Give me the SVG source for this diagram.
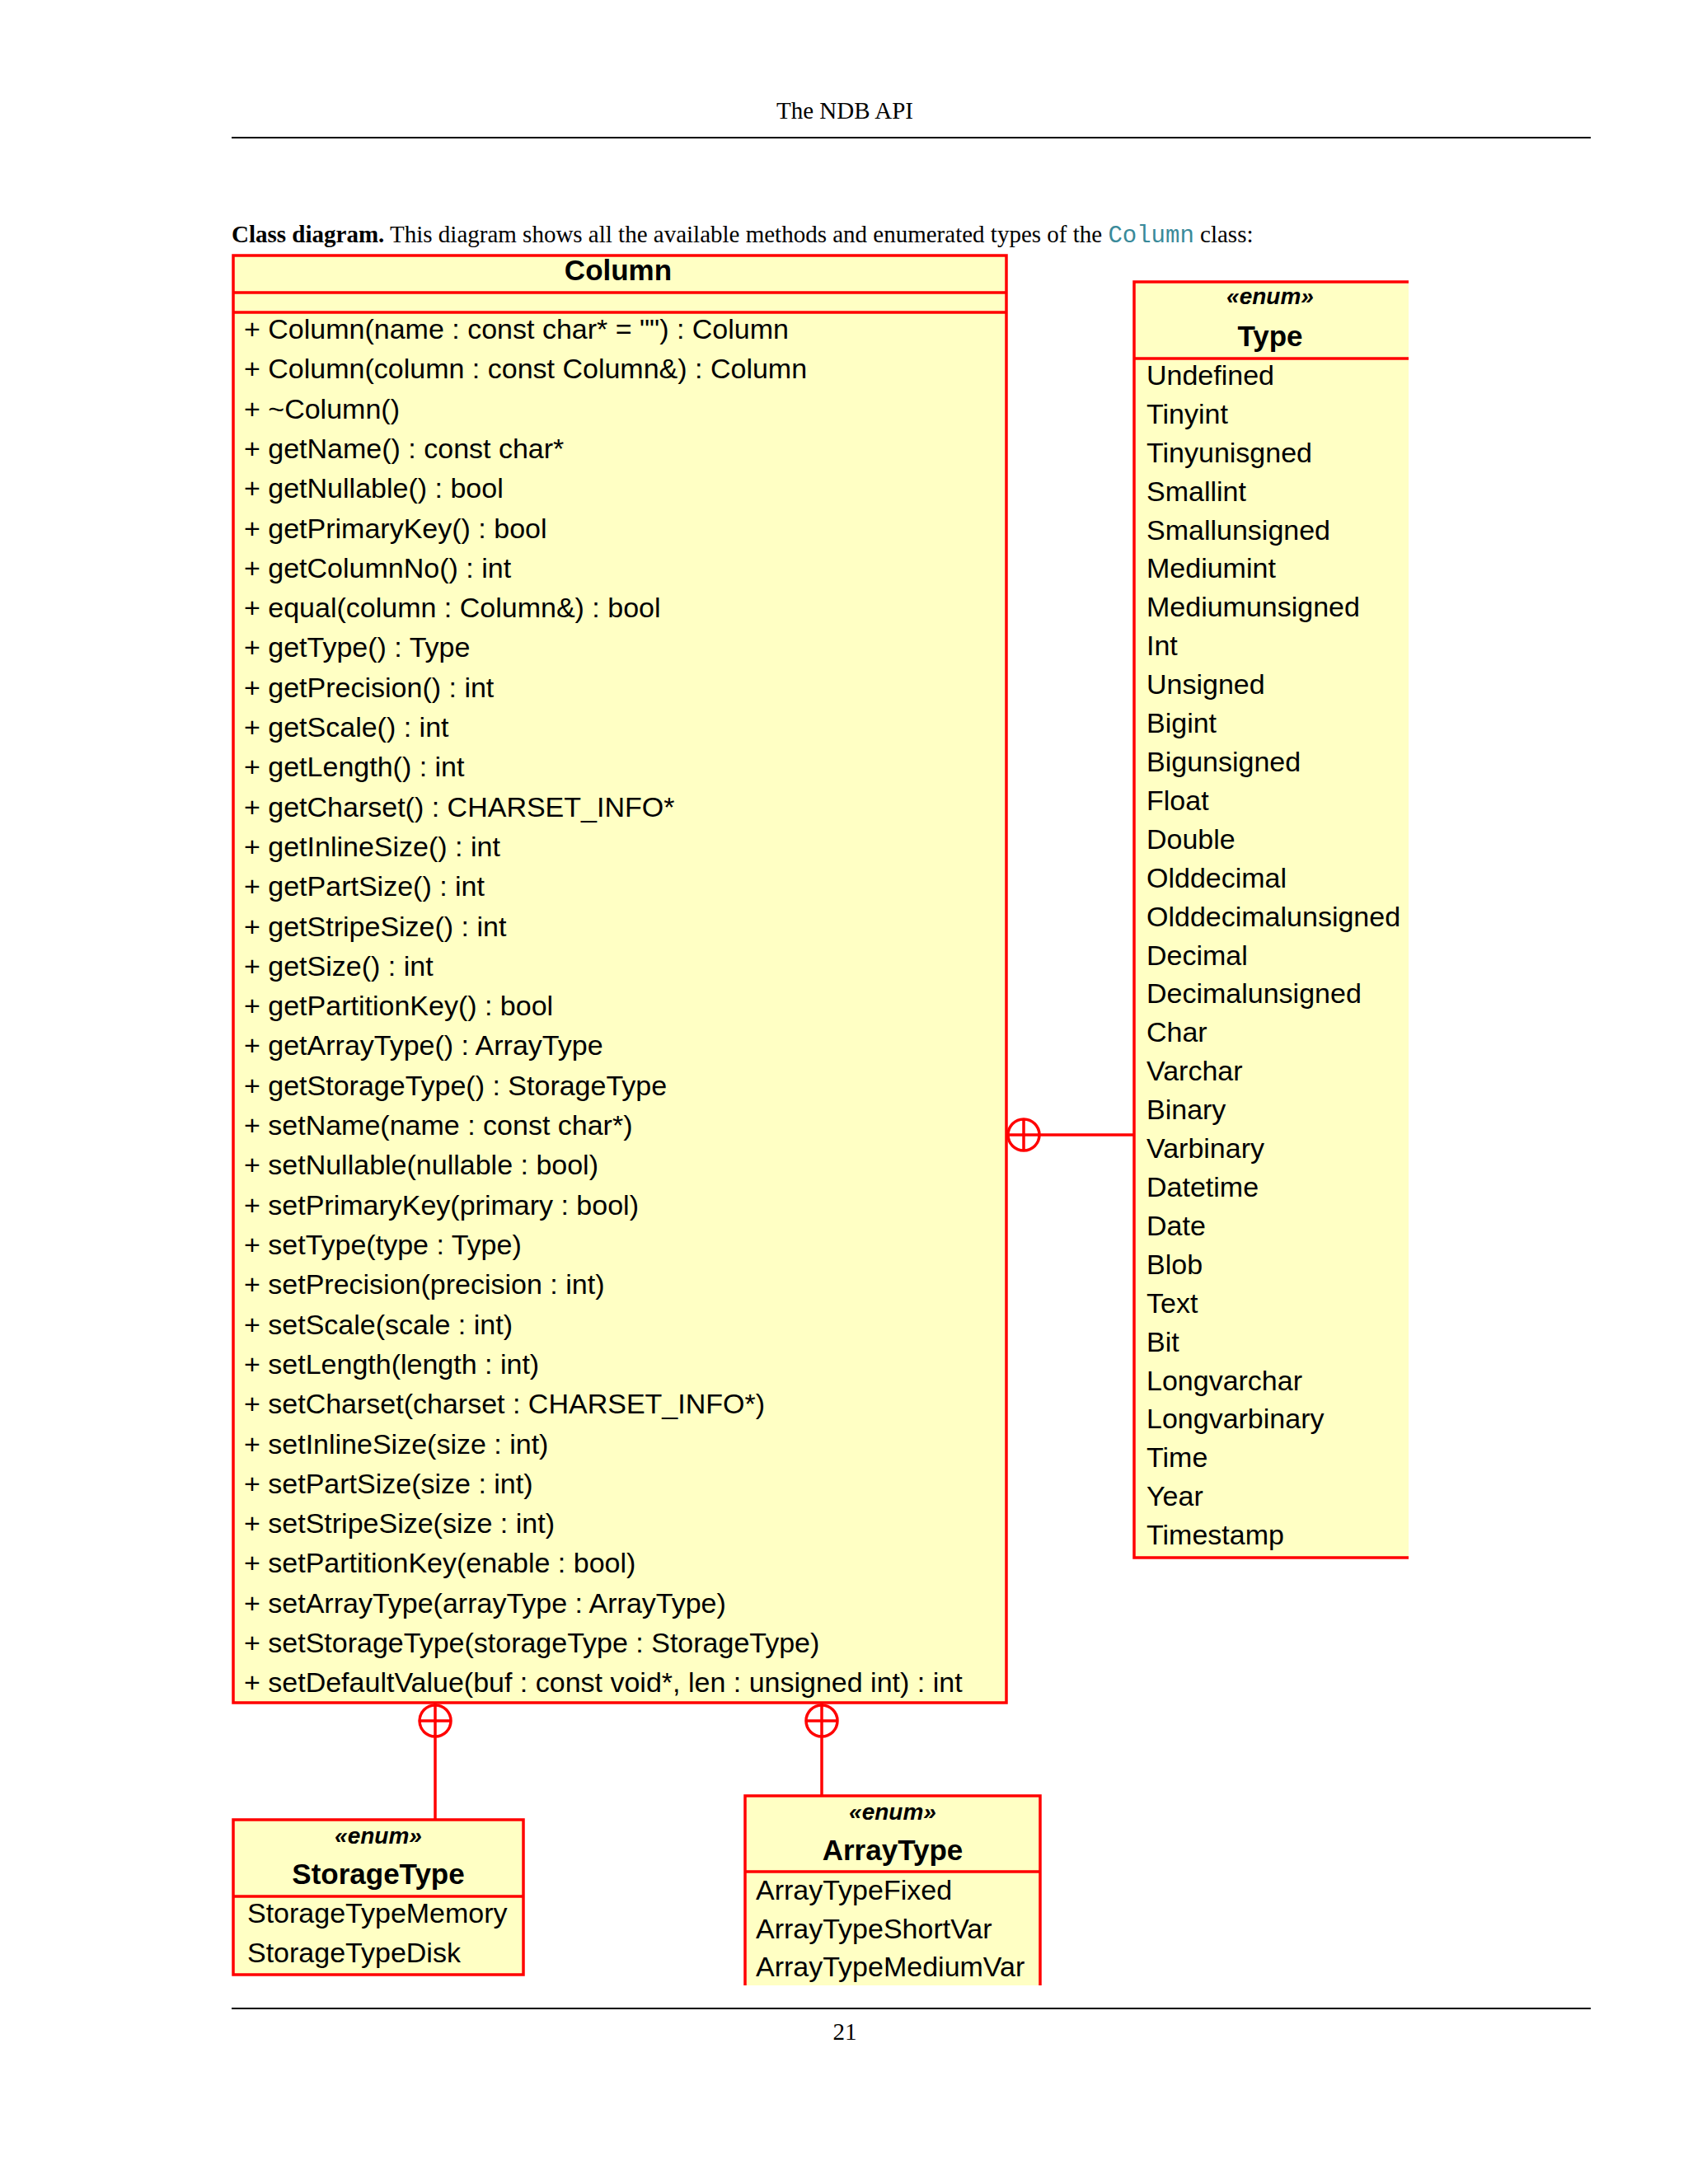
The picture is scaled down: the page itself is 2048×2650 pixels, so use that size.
<svg xmlns="http://www.w3.org/2000/svg" width="2048" height="2650" viewBox="0 0 2048 2650">
<style>
.pg{font-family:"Liberation Serif",serif;font-size:29px;fill:#000}
.t{font-family:"Liberation Sans",Arial,sans-serif;font-size:34px;fill:#000}
.h{font-family:"Liberation Sans",Arial,sans-serif;font-size:35px;font-weight:bold;fill:#000;text-anchor:middle}
.st{font-family:"Liberation Sans",Arial,sans-serif;font-size:28px;font-weight:bold;font-style:italic;fill:#000;text-anchor:middle}
.box{fill:#ffffc4;stroke:none}
.rl{stroke:#ff0000;stroke-width:3.5;fill:none}
</style>
<rect width="2048" height="2650" fill="#fff"/>
<text class="pg" x="1025" y="144" text-anchor="middle">The NDB API</text>
<line x1="281" y1="167" x2="1930" y2="167" stroke="#000" stroke-width="2"/>
<text class="pg" x="281" y="294"><tspan font-weight="bold">Class diagram.</tspan>  This diagram shows all the available methods and enumerated types of the <tspan font-family="Liberation Mono,monospace" fill="#3a8a9a">Column</tspan> class:</text>

<g id="Column">
<rect class="box" x="283" y="310" width="938" height="1756"/>
<rect class="rl" x="283" y="310" width="938" height="1756"/>
<line class="rl" x1="283" y1="355" x2="1221" y2="355"/>
<line class="rl" x1="283" y1="379" x2="1221" y2="379"/>
<text class="h" x="750" y="340">Column</text>
<g class="t">
<text x="296" y="411">+ Column(name : const char* = "") : Column</text>
<text x="296" y="459">+ Column(column : const Column&amp;) : Column</text>
<text x="296" y="508">+ ~Column()</text>
<text x="296" y="556">+ getName() : const char*</text>
<text x="296" y="604">+ getNullable() : bool</text>
<text x="296" y="653">+ getPrimaryKey() : bool</text>
<text x="296" y="701">+ getColumnNo() : int</text>
<text x="296" y="749">+ equal(column : Column&amp;) : bool</text>
<text x="296" y="797">+ getType() : Type</text>
<text x="296" y="846">+ getPrecision() : int</text>
<text x="296" y="894">+ getScale() : int</text>
<text x="296" y="942">+ getLength() : int</text>
<text x="296" y="991">+ getCharset() : CHARSET_INFO*</text>
<text x="296" y="1039">+ getInlineSize() : int</text>
<text x="296" y="1087">+ getPartSize() : int</text>
<text x="296" y="1136">+ getStripeSize() : int</text>
<text x="296" y="1184">+ getSize() : int</text>
<text x="296" y="1232">+ getPartitionKey() : bool</text>
<text x="296" y="1280">+ getArrayType() : ArrayType</text>
<text x="296" y="1329">+ getStorageType() : StorageType</text>
<text x="296" y="1377">+ setName(name : const char*)</text>
<text x="296" y="1425">+ setNullable(nullable : bool)</text>
<text x="296" y="1474">+ setPrimaryKey(primary : bool)</text>
<text x="296" y="1522">+ setType(type : Type)</text>
<text x="296" y="1570">+ setPrecision(precision : int)</text>
<text x="296" y="1619">+ setScale(scale : int)</text>
<text x="296" y="1667">+ setLength(length : int)</text>
<text x="296" y="1715">+ setCharset(charset : CHARSET_INFO*)</text>
<text x="296" y="1764">+ setInlineSize(size : int)</text>
<text x="296" y="1812">+ setPartSize(size : int)</text>
<text x="296" y="1860">+ setStripeSize(size : int)</text>
<text x="296" y="1908">+ setPartitionKey(enable : bool)</text>
<text x="296" y="1957">+ setArrayType(arrayType : ArrayType)</text>
<text x="296" y="2005">+ setStorageType(storageType : StorageType)</text>
<text x="296" y="2053">+ setDefaultValue(buf : const void*, len : unsigned int) : int</text>
<text x="296" y="2101" display="none"></text>
</g>
<text class="t" x="296" y="2054" display="none"></text>
</g>

<g id="Type">
<rect class="box" x="1376" y="342" width="333" height="1548"/>
<path class="rl" d="M1709 342 H1376 V1890 H1709 M1376 435 H1709"/>
<text class="st" x="1541" y="369">«enum»</text>
<text class="h" x="1541" y="420">Type</text>
<g class="t">
<text x="1391" y="467">Undefined</text>
<text x="1391" y="514">Tinyint</text>
<text x="1391" y="561">Tinyunisgned</text>
<text x="1391" y="608">Smallint</text>
<text x="1391" y="655">Smallunsigned</text>
<text x="1391" y="701">Mediumint</text>
<text x="1391" y="748">Mediumunsigned</text>
<text x="1391" y="795">Int</text>
<text x="1391" y="842">Unsigned</text>
<text x="1391" y="889">Bigint</text>
<text x="1391" y="936">Bigunsigned</text>
<text x="1391" y="983">Float</text>
<text x="1391" y="1030">Double</text>
<text x="1391" y="1077">Olddecimal</text>
<text x="1391" y="1124">Olddecimalunsigned</text>
<text x="1391" y="1171">Decimal</text>
<text x="1391" y="1217">Decimalunsigned</text>
<text x="1391" y="1264">Char</text>
<text x="1391" y="1311">Varchar</text>
<text x="1391" y="1358">Binary</text>
<text x="1391" y="1405">Varbinary</text>
<text x="1391" y="1452">Datetime</text>
<text x="1391" y="1499">Date</text>
<text x="1391" y="1546">Blob</text>
<text x="1391" y="1593">Text</text>
<text x="1391" y="1640">Bit</text>
<text x="1391" y="1687">Longvarchar</text>
<text x="1391" y="1733">Longvarbinary</text>
<text x="1391" y="1780">Time</text>
<text x="1391" y="1827">Year</text>
<text x="1391" y="1874">Timestamp</text>
</g>
</g>

<g id="StorageType">
<rect class="box" x="283" y="2208" width="352" height="188"/>
<rect class="rl" x="283" y="2208" width="352" height="188"/>
<line class="rl" x1="283" y1="2301" x2="635" y2="2301"/>
<text class="st" x="459" y="2237">«enum»</text>
<text class="h" x="459" y="2286">StorageType</text>
<text class="t" x="300" y="2333">StorageTypeMemory</text>
<text class="t" x="300" y="2381">StorageTypeDisk</text>
</g>

<g id="ArrayType">
<rect class="box" x="904" y="2179" width="358" height="230"/>
<path class="rl" d="M904 2409 V2179 H1262 V2409 M904 2271 H1262"/>
<text class="st" x="1083" y="2208">«enum»</text>
<text class="h" x="1083" y="2257">ArrayType</text>
<text class="t" x="917" y="2305">ArrayTypeFixed</text>
<text class="t" x="917" y="2352">ArrayTypeShortVar</text>
<text class="t" x="917" y="2398">ArrayTypeMediumVar</text>
</g>

<g id="connectors" class="rl">
<line x1="1221" y1="1377" x2="1376" y2="1377"/>
<circle cx="1242" cy="1377" r="19"/>
<line x1="1242" y1="1358" x2="1242" y2="1396"/>
<line x1="528" y1="2066" x2="528" y2="2208"/>
<circle cx="528" cy="2088" r="19"/>
<line x1="509" y1="2088" x2="547" y2="2088"/>
<line x1="997" y1="2066" x2="997" y2="2179"/>
<circle cx="997" cy="2088" r="19"/>
<line x1="978" y1="2088" x2="1016" y2="2088"/>
</g>

<line x1="281" y1="2437" x2="1930" y2="2437" stroke="#000" stroke-width="2"/>
<text class="pg" x="1025" y="2475" text-anchor="middle">21</text>
</svg>
